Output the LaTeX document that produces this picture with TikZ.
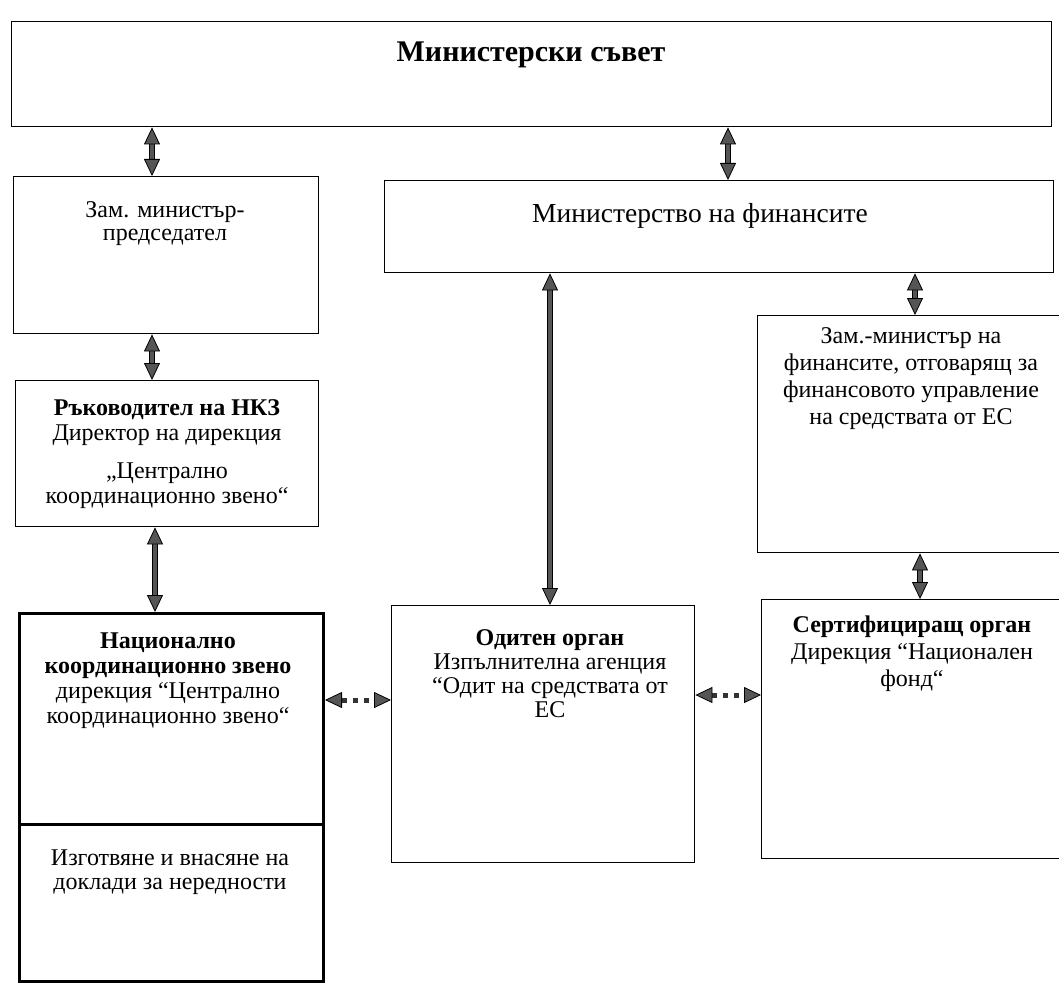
\documentclass[tikz,border=0pt]{standalone}
\usepackage{fontspec}
\setmainfont{Liberation Serif}
\usetikzlibrary{arrows.meta}
\definecolor{arrgray}{HTML}{555555}
\definecolor{dotgray}{HTML}{333333}
\begin{document}
\begin{tikzpicture}[x=1pt,y=-1pt,
  box/.style={draw=black, line width=1.4pt, inner sep=0pt, anchor=north west},
  thickbox/.style={box, line width=3pt},
  txt/.style={anchor=north, inner sep=0pt, align=center, font=\fontsize{24}{#1}\selectfont},
  blk/.tip={Triangle[length=17pt,width=16pt,fill=arrgray,color=black,line width=0.8pt]},
  dbl/.style={draw=arrgray, line width=4pt, blk-blk,
    preaction={draw=black, line width=6.4pt, -, shorten <=9pt, shorten >=9pt}},
  dotarr/.style={draw=dotgray, line width=5pt, dash pattern=on 5pt off 6pt, blk-blk}
]
\useasboundingbox[fill=white] (0,0) rectangle (1059,987);

% boxes
\node[box, minimum width=1040pt, minimum height=105pt] (sovet) at (11,21) {};
\node[box, minimum width=669pt, minimum height=92pt] (minfin) at (384,180) {};
\node[box, minimum width=305pt, minimum height=157pt] (zampm) at (13,176) {};
\node[box, minimum width=303pt, minimum height=146pt] (ruk) at (15,380) {};
\node[thickbox, minimum width=304pt, minimum height=211pt] (nkzA) at (18,612) {};
\node[thickbox, minimum width=304pt, minimum height=157pt] (nkzB) at (18,823) {};
\node[box, minimum width=303pt, minimum height=257pt] (odit) at (391,605) {};
\node[box, minimum width=305pt, minimum height=237pt] (zamfin) at (757,315) {};
\node[box, minimum width=301pt, minimum height=259pt] (cert) at (761,599) {};

% texts
\node[anchor=base, font=\fontsize{30}{34}\selectfont\bfseries] (sovetT) at (531,62) {Министерски съвет};
\node[anchor=base, font=\fontsize{27.5}{32}\selectfont] (minfinT) at (700,222) {Министерство на финансите};
\node[txt=23] (zampmT) at (165,200.9) {\strut Зам. министър-\\председател};
\node[txt=25] (rukT) at (167,397.5) {\strut\textbf{Ръководител на НКЗ}\\Директор на дирекция\\[13pt]„Централно\\координационно звено“};
\node[txt=25] (nkzAT) at (168,630.5) {\strut\textbf{Национално}\\\textbf{координационно звено}\\дирекция “Централно\\координационно звено“};
\node[txt=24] (nkzBT) at (170,848.2) {\strut Изготвяне и внасяне на\\доклади за нередности};
\node[txt=24] (oditT) at (550,628.2) {\strut\textbf{Одитен орган}\\Изпълнителна агенция\\“Одит на средствата от\\ЕС};
\node[txt=27] (zamfinT) at (911,324.1) {\strut Зам.-министър на\\финансите, отговарящ за\\финансовото управление\\на средствата от ЕС};
\node[txt=27] (certT) at (912,613.1) {\strut\textbf{Сертифициращ орган}\\Дирекция “Национален\\фонд“};

% connectors
\draw[dbl] (sovet.south -| 152,0) -- (zampm.north -| 152,0);
\draw[dbl] (zampm.south -| 152,0) -- (ruk.north -| 152,0);
\draw[dbl] (ruk.south -| 155,0) -- (nkzA.north -| 155,0);
\draw[dbl] (sovet.south -| 728,0) -- (minfin.north -| 728,0);
\draw[dbl] (minfin.south -| 550,0) -- (odit.north -| 550,0);
\draw[dbl] (minfin.south -| 915,0) -- (zamfin.north -| 915,0);
\draw[dbl] (zamfin.south -| 920,0) -- (cert.north -| 920,0);
\draw[dotarr] (nkzA.east |- 0,700) -- (odit.west |- 0,700);
\draw[dotarr] (odit.east |- 0,695) -- (cert.west |- 0,695);
\end{tikzpicture}
\end{document}
